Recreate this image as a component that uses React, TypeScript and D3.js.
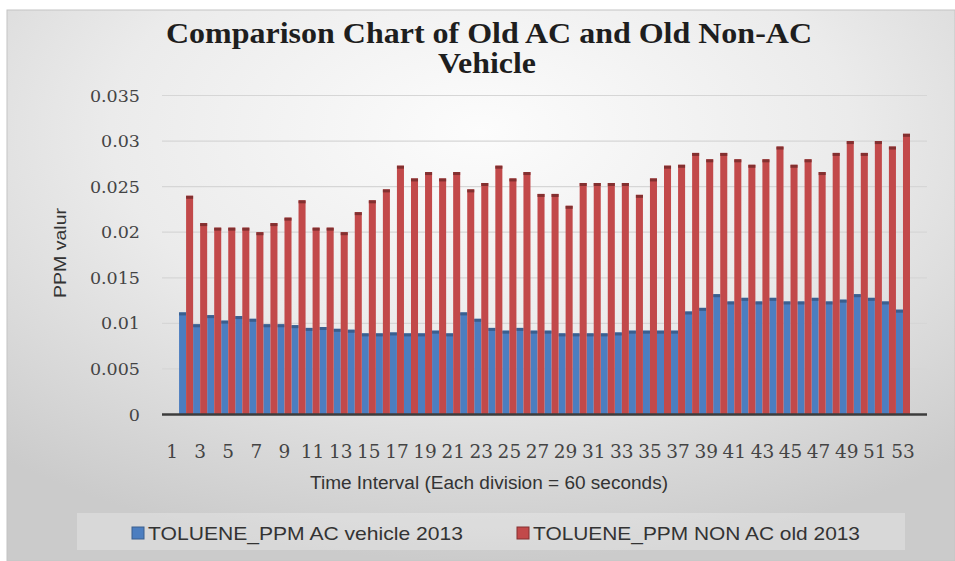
import React from "react";
import * as d3 from "d3";

const categories = ["1","2","3","4","5","6","7","8","9","10","11","12","13","14","15","16","17","18","19","20","21","22","23","24","25","26","27","28","29","30","31","32","33","34","35","36","37","38","39","40","41","42","43","44","45","46","47","48","49","50","51","52","53"];

const acValues: (number | null)[] = [null,0.0112,0.0099,0.0109,0.0103,0.0108,0.0105,0.0099,0.0099,0.0098,0.0095,0.0096,0.0094,0.0093,0.0089,0.0089,0.009,0.0089,0.0089,0.0092,0.0089,0.0112,0.0105,0.0095,0.0092,0.0095,0.0092,0.0092,0.0089,0.0089,0.0089,0.0089,0.009,0.0092,0.0092,0.0092,0.0092,0.0113,0.0117,0.0132,0.0124,0.0128,0.0124,0.0128,0.0124,0.0124,0.0128,0.0124,0.0126,0.0132,0.0128,0.0124,0.0115];

const nonAcValues: (number | null)[] = [null,0.024,0.021,0.0205,0.0205,0.0205,0.02,0.021,0.0216,0.0235,0.0205,0.0205,0.02,0.0222,0.0235,0.0247,0.0273,0.0259,0.0266,0.0259,0.0266,0.0247,0.0254,0.0273,0.0259,0.0266,0.0242,0.0242,0.0229,0.0254,0.0254,0.0254,0.0254,0.0241,0.0259,0.0273,0.0274,0.0287,0.028,0.0287,0.028,0.0274,0.028,0.0294,0.0274,0.028,0.0266,0.0287,0.03,0.0287,0.03,0.0294,0.0308];

const yTicks = [0, 0.005, 0.01, 0.015, 0.02, 0.025, 0.03, 0.035];
const yTickLabels = ["0", "0.005", "0.01", "0.015", "0.02", "0.025", "0.03", "0.035"];
const xTickLabels = categories.filter((_, i) => i % 2 === 0);

const seriesNames = ["TOLUENE_PPM AC vehicle 2013", "TOLUENE_PPM NON AC old 2013"];
const titleLines = ["Comparison Chart of Old AC and Old Non-AC", "Vehicle"];

const BLUE = "#4c7ec0";
const BLUE_CAP = "#3a5f8e";
const RED = "#c2494a";
const RED_CAP = "#833030";

export default function App() {
  const W = 955, H = 561;
  const x = d3.scaleBand<string>().domain(categories).range([165, 910]).paddingInner(0).paddingOuter(0);
  const y = d3.scaleLinear().domain([0, 0.035]).range([414.5, 95.5]);
  const bw = x.bandwidth();
  const half = bw / 2;

  return (
    <svg width={W} height={H} style={{ position: "absolute", left: 0, top: 0 }}>
      <defs>
        <radialGradient id="bg" cx="0.5" cy="0.22" r="0.78">
          <stop offset="0" stopColor="#fcfcfc" />
          <stop offset="0.5" stopColor="#ebebeb" />
          <stop offset="1" stopColor="#cbcbcb" />
        </radialGradient>
      </defs>
      <rect x={0} y={0} width={W} height={H} fill="#ffffff" />
      <rect x={7} y={10} width={W - 7} height={H - 10} fill="url(#bg)" stroke="#c4c4c4" strokeWidth={1} />

      {/* title */}
      <text x={489} y={43} textAnchor="middle" fontFamily="'Liberation Serif', serif" fontWeight="bold" fontSize={30} fill="#1e1e1e" textLength={646} lengthAdjust="spacingAndGlyphs">{titleLines[0]}</text>
      <text x={487} y={73} textAnchor="middle" fontFamily="'Liberation Serif', serif" fontWeight="bold" fontSize={30} fill="#1e1e1e" textLength={98} lengthAdjust="spacingAndGlyphs">{titleLines[1]}</text>

      {/* gridlines */}
      {yTicks.slice(1).map((t) => (
        <line key={"g" + t} x1={162} x2={927} y1={y(t)} y2={y(t)} stroke="#d6d6d6" strokeWidth={1.2} />
      ))}

      {/* y tick labels */}
      {yTicks.map((t, i) => (
        <text key={"yl" + t} x={140} y={y(t)} dy="0.35em" textAnchor="end" fontFamily="'DejaVu Serif', serif" fontSize={17.5} fill="#444">{yTickLabels[i]}</text>
      ))}

      {/* y axis title */}
      <text transform="translate(60,253) rotate(-90)" textAnchor="middle" dy="0.35em" fontFamily="'Liberation Sans', sans-serif" fontSize={17} fill="#333" textLength={90} lengthAdjust="spacingAndGlyphs">PPM valur</text>

      {/* bars */}
      {categories.map((c, i) => {
        const v = acValues[i];
        if (v == null) return null;
        const x0 = x(c)!;
        return (
          <g key={"b" + c}>
            <rect x={x0} y={y(v)} width={half} height={y(0) - y(v)} fill={BLUE} />
            <rect x={x0} y={y(v)} width={half} height={3} fill={BLUE_CAP} />
          </g>
        );
      })}
      {categories.map((c, i) => {
        const v = nonAcValues[i];
        if (v == null) return null;
        const x0 = x(c)! + half;
        return (
          <g key={"r" + c}>
            <rect x={x0} y={y(v)} width={half} height={y(0) - y(v)} fill={RED} />
            <rect x={x0} y={y(v)} width={half} height={3} fill={RED_CAP} />
          </g>
        );
      })}

      {/* x axis line */}
      <line x1={162} x2={927} y1={414.5} y2={414.5} stroke="#3c3c3c" strokeWidth={2.5} />

      {/* x tick labels */}
      {xTickLabels.map((c) => (
        <text key={"xl" + c} x={x(c)! + half} y={452} dy="0.35em" textAnchor="middle" fontFamily="'DejaVu Serif', serif" fontSize={18.5} fill="#444">{c}</text>
      ))}

      {/* x axis title */}
      <text x={489} y={483} dy="0.35em" textAnchor="middle" fontFamily="'Liberation Sans', sans-serif" fontSize={18} fill="#333" textLength={358} lengthAdjust="spacingAndGlyphs">Time Interval (Each division = 60 seconds)</text>

      {/* legend */}
      <rect x={77} y={513} width={828} height={37} fill="#ffffff" fillOpacity={0.25} />
      <rect x={132} y={527} width={12} height={12} fill={BLUE} stroke="#3a5f8e" strokeWidth={1} />
      <text x={148} y={533} dy="0.35em" fontFamily="'Liberation Sans', sans-serif" fontSize={19} fill="#333" textLength={315} lengthAdjust="spacingAndGlyphs">{seriesNames[0]}</text>
      <rect x={517} y={527} width={12} height={12} fill={RED} stroke="#833030" strokeWidth={1} />
      <text x={533} y={533} dy="0.35em" fontFamily="'Liberation Sans', sans-serif" fontSize={19} fill="#333" textLength={327} lengthAdjust="spacingAndGlyphs">{seriesNames[1]}</text>
    </svg>
  );
}
